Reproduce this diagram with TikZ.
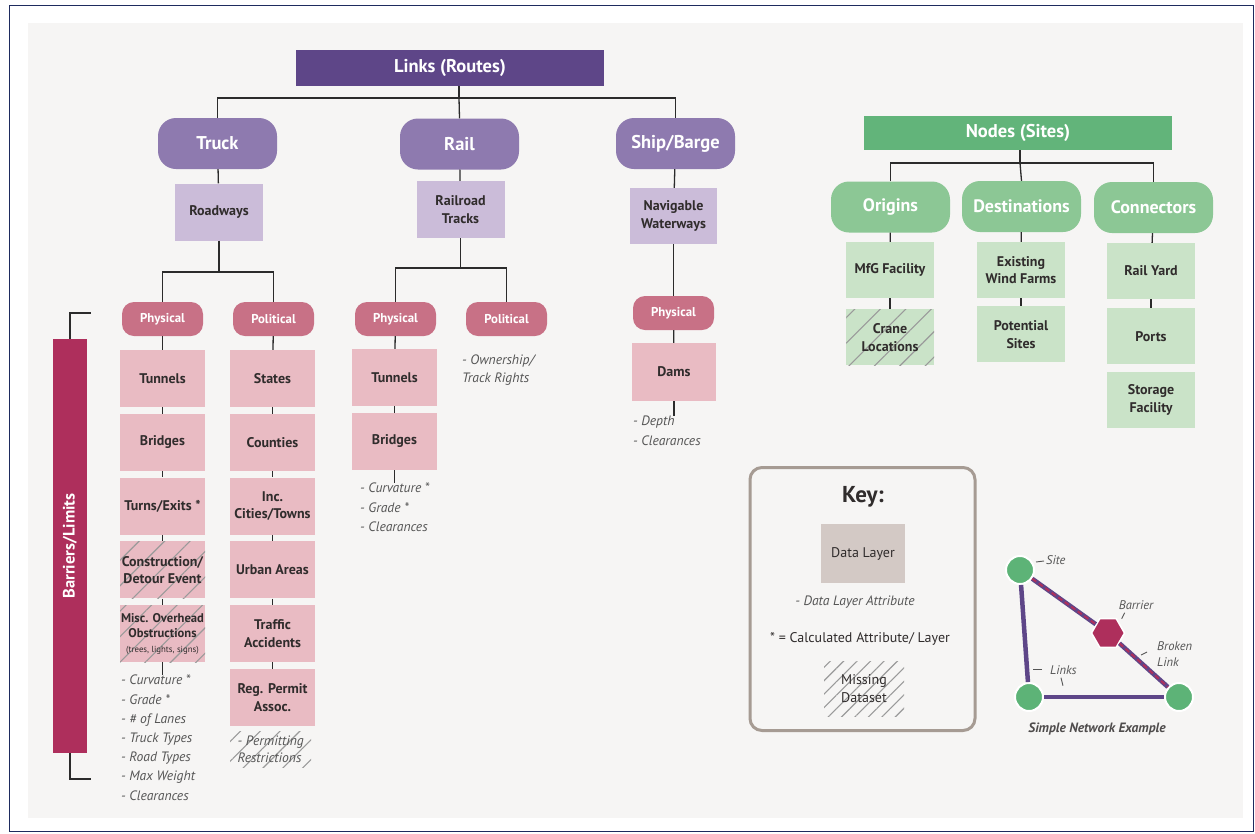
\documentclass[tikz,border=0pt]{standalone}
\usepackage{fontspec}
\setmainfont{PT Sans}
\usepackage{graphicx}
\usetikzlibrary{positioning,shapes.geometric,patterns.meta,calc}
\definecolor{framenavy}{HTML}{1E2B5E}
\definecolor{bggray}{HTML}{F6F5F4}
\definecolor{linkdark}{HTML}{5E4688}
\definecolor{linkpill}{HTML}{8E7AAF}
\definecolor{linkbox}{HTML}{CBBCD9}
\definecolor{barpill}{HTML}{C87186}
\definecolor{barbox}{HTML}{E9BBC3}
\definecolor{barcol}{HTML}{AE2F5C}
\definecolor{nodedark}{HTML}{62B47A}
\definecolor{nodepill}{HTML}{8CC795}
\definecolor{nodebox}{HTML}{CAE3C8}
\definecolor{keybox}{HTML}{D3C9C5}
\definecolor{keyframe}{HTML}{A69B93}
\definecolor{sitegreen}{HTML}{5DB377}
\definecolor{textdark}{HTML}{302C2C}
\definecolor{attrgray}{HTML}{555555}
\definecolor{hatchgray}{HTML}{9A9A9A}
\definecolor{linegray}{HTML}{2B2B2B}
\tikzset{
  tree/.style={draw=linegray, line width=1.3pt},
  head/.style={minimum width=308pt, minimum height=36pt, text=white, font=\fontsize{18.5}{21}\selectfont\bfseries},
  pill/.style={rounded corners=18pt, minimum width=119pt, minimum height=51pt, text=white, font=\fontsize{18.5}{21}\selectfont\bfseries},
  smallpill/.style={rounded corners=12pt, fill=barpill, minimum width=81pt, minimum height=34pt, text=white, font=\fontsize{12.8}{14}\selectfont\bfseries},
  layer/.style={minimum width=85pt, minimum height=57pt, inner sep=1pt, align=center, text=textdark, font=\fontsize{14}{17.5}\selectfont\bfseries},
  route/.style={layer, fill=linkbox, minimum width=88pt},
  barrierbox/.style={layer, fill=barbox},
  sitebox/.style={layer, fill=nodebox, minimum width=88pt, minimum height=56pt},
  missing/.style={postaction={pattern={Lines[angle=45, distance=#1, line width=1.1pt]}, pattern color=hatchgray}},
  missing/.default=18pt,
  attr/.style={anchor=north west, inner sep=0pt, align=left, text=attrgray, font=\fontsize{13.6}{19.2}\selectfont\itshape},
  site/.style={circle, fill=sitegreen, draw=white, line width=2pt, minimum size=28pt, inner sep=0pt},
  barrier/.style={regular polygon, regular polygon sides=6, fill=barcol, draw=white, line width=1.5pt, minimum size=33pt, inner sep=0pt},
  netlink/.style={draw=linkdark, line width=4.5pt},
  broken/.style={postaction={draw=barcol, line width=2pt, dash pattern=on 5pt off 3pt}},
  netlbl/.style={inner sep=0pt, text=attrgray, font=\fontsize{12.5}{16}\selectfont\itshape},
  tick/.style={draw=attrgray, line width=0.9pt},
}
\begin{document}
\begin{tikzpicture}[x=1pt, y=-1pt, node distance=6.4pt]
  \useasboundingbox (0,0) rectangle (1255,833);
  \draw[framenavy, line width=1pt] (9,5) rectangle (1253.5,831.5);
  \fill[bggray] (28,23) rectangle (1243,818);

  % links (routes)
  \node[head, fill=linkdark] (links) at (450,68) {Links (Routes)};
  \node[pill, fill=linkpill] (truck) at (217.5,143.5) {Truck};
  \node[pill, fill=linkpill] (rail) at (459.5,144) {Rail};
  \node[pill, fill=linkpill] (ship) at (675.5,143.5) {Ship/Barge};
  \node[route] (roadways) at (219,212) {Roadways};
  \node[route] (railroad) at (460.5,209.5) {Railroad\\Tracks};
  \node[route, minimum width=87pt, minimum height=56pt] (waterways) at (673.5,216) {Navigable\\Waterways};
  \coordinate (lbus) at (459,98);
  \draw[tree] (lbus |- links.south) -- (lbus);
  \draw[tree] (truck.north) |- (lbus) -| (ship.north);
  \draw[tree] (lbus) -- (rail.north);
  \draw[tree] (truck) -- (roadways);
  \draw[tree] (rail) -- (railroad);
  \draw[tree] (ship) -- (waterways);

  % truck barriers
  \node[smallpill] (tphys) at (162.5,319) {Physical};
  \node[smallpill] (tpol) at (273.5,319) {Political};
  \coordinate (tbus) at (219,272);
  \draw[tree] (roadways.south) -- (tbus);
  \draw[tree] (tphys.north) |- (tbus) -| (tpol.north);
  \node[barrierbox] (ttunnels) at (162.5,378.5) {Tunnels};
  \node[barrierbox, below=of ttunnels] (tbridges) {Bridges};
  \node[barrierbox, below=of tbridges] (tturns) {Turns/Exits *};
  \node[barrierbox, missing, below=of tturns] (tconstr) {Construction/\\Detour Event};
  \node[barrierbox, missing, below=of tconstr, font=\fontsize{12.6}{15}\selectfont\bfseries] (tmisc) {Misc. Overhead\\Obstructions\\{\fontsize{8.8}{10}\selectfont\mdseries (trees, lights, signs)}};
  \node[barrierbox] (tstates) at (272.5,378.5) {States};
  \node[barrierbox, below=of tstates] (tcounties) {Counties};
  \node[barrierbox, below=of tcounties] (tcities) {Inc.\\Cities/Towns};
  \node[barrierbox, below=of tcities] (turban) {Urban Areas};
  \node[barrierbox, below=of turban] (ttraffic) {Traffic\\Accidents};
  \node[barrierbox, below=of ttraffic] (tpermit) {Reg. Permit\\Assoc.};
  \foreach \a/\b in {tphys/ttunnels, ttunnels/tbridges, tbridges/tturns, tturns/tconstr, tconstr/tmisc,
    tpol/tstates, tstates/tcounties, tcounties/tcities, tcities/turban, turban/ttraffic, ttraffic/tpermit}
    \draw[tree] (\a) -- (\b);
  \node[attr] (tattr) at (121,675) {- Curvature *\\- Grade *\\- \# of Lanes\\- Truck Types\\- Road Types\\- Max Weight\\- Clearances};
  \draw[tree] (tmisc.south) -- (tmisc.south |- tattr.north);
  \node[attr, missing=14pt, minimum width=81pt, minimum height=36pt, inner xsep=1pt, font=\fontsize{13.6}{17}\selectfont\itshape] (tpermits) at (230,731) {- Permitting\\Restrictions};

  % rail barriers
  \node[smallpill] (rphys) at (395.5,319) {Physical};
  \node[smallpill] (rpol) at (506.5,319) {Political};
  \coordinate (rbus) at (460.5,268);
  \draw[tree] (railroad.south) -- (rbus);
  \draw[tree] (rphys.north) |- (rbus) -| (rpol.north);
  \node[barrierbox] (rtunnels) at (394.5,377.5) {Tunnels};
  \node[barrierbox, below=of rtunnels] (rbridges) {Bridges};
  \draw[tree] (rphys) -- (rtunnels);
  \draw[tree] (rtunnels) -- (rbridges);
  \node[attr] (rattr) at (360,483) {- Curvature *\\- Grade *\\- Clearances};
  \draw[tree] (rbridges.south) -- (rbridges.south |- rattr.north);
  \node[attr, font=\fontsize{13.6}{18}\selectfont\itshape] (rown) at (462,355) {- Ownership/\\Track Rights};

  % ship barriers
  \node[smallpill] (sphys) at (673.5,313) {Physical};
  \node[barrierbox, minimum width=84pt, minimum height=58pt] (sdams) at (674,372) {Dams};
  \draw[tree] (waterways) -- (sphys);
  \draw[tree] (sphys) -- (sdams);
  \node[attr] (sattr) at (633,416) {- Depth\\- Clearances};
  \draw[tree] (sdams.south) -- (sdams.south |- sattr.north);

  % barriers/limits bar
  \node[fill=barcol, minimum width=34pt, minimum height=414pt, inner sep=0pt, text=white, font=\fontsize{16.5}{18}\selectfont\bfseries] (barlim) at (70,546) {\rotatebox{90}{Barriers/Limits}};
  \coordinate (bartop) at (91,313);
  \coordinate (barbot) at (91,779);
  \draw[tree] (barlim.north) |- (bartop);
  \draw[tree] (barlim.south) |- (barbot);

  % nodes (sites)
  \node[head, fill=nodedark, minimum height=34pt] (sites) at (1018,133) {Nodes (Sites)};
  \node[pill, fill=nodepill, font=\fontsize{18}{21}\selectfont\bfseries] (origins) at (890.5,207) {Origins};
  \node[pill, fill=nodepill, font=\fontsize{18}{21}\selectfont\bfseries] (destinations) at (1021.5,206.5) {Destinations};
  \node[pill, fill=nodepill, font=\fontsize{18}{21}\selectfont\bfseries] (connectors) at (1153.5,207.5) {Connectors};
  \coordinate (nbus) at (1020,163);
  \draw[tree] (nbus |- sites.south) -- (nbus);
  \draw[tree] (origins.north) |- (nbus) -| (connectors.north);
  \draw[tree] (nbus) -- (destinations.north);
  \node[sitebox] (mfg) at (890,270) {MfG Facility};
  \node[sitebox, missing, below=11pt of mfg] (crane) {Crane\\Locations};
  \node[sitebox] (existing) at (1021,270) {Existing\\Wind Farms};
  \node[sitebox, below=8pt of existing] (potential) {Potential\\Sites};
  \node[sitebox] (railyard) at (1151,271) {Rail Yard};
  \node[sitebox, below=9pt of railyard] (ports) {Ports};
  \node[sitebox, below=7pt of ports] (storage) {Storage\\Facility};
  \foreach \a/\b in {origins/mfg, mfg/crane, destinations/existing, existing/potential,
    connectors/railyard, railyard/ports}
    \draw[tree] (\a) -- (\b);

  % key
  \node[draw=keyframe, fill=bggray, line width=3pt, rounded corners=12pt, minimum width=225pt, minimum height=263pt] (key) at (862.5,599) {};
  \node[text=textdark, font=\fontsize{23}{26}\selectfont\bfseries] (keytitle) at (863,497) {Key:};
  \node[layer, fill=keybox, minimum width=84pt, minimum height=59pt, font=\fontsize{14}{17}\selectfont] (keylayer) at (863,553.5) {Data Layer};
  \node[netlbl, font=\fontsize{13.6}{16}\selectfont\itshape] (keyattr) at (855,602) {- Data Layer Attribute};
  \node[text=textdark, inner sep=0pt, font=\fontsize{14}{16}\selectfont] (keycalc) at (860,639) {* = Calculated Attribute/ Layer};
  \node[layer, missing=9.5pt, minimum width=80pt, minimum height=55pt, font=\fontsize{14}{18}\selectfont] (keymissing) at (864,689) {Missing\\Dataset};

  % simple network example
  \node[site] (sitea) at (1020,570) {};
  \node[site] (siteb) at (1029,697) {};
  \node[site] (sitec) at (1179,697) {};
  \node[barrier] (barrier) at (1108,633) {};
  \draw[netlink] (sitea) -- (siteb);
  \draw[netlink] (siteb) -- (sitec);
  \draw[netlink, broken] (sitea) -- (barrier);
  \draw[netlink, broken] (barrier) -- (sitec);
  \node[netlbl, anchor=west] (sitelbl) at (1046,560) {Site};
  \draw[tick] ($(sitelbl.west)+(-2,1)$) -- ++(-8,1);
  \node[netlbl] (barlbl) at (1136,605) {Barrier};
  \draw[tick] ($(barlbl.south west)+(6,3)$) -- ++(-3,6);
  \node[netlbl, anchor=west, align=left] (brokenlbl) at (1157,654) {Broken\\Link};
  \draw[tick] ($(brokenlbl.west)+(-10,-2)$) -- ++(-6,3);
  \node[netlbl, anchor=west] (linkslbl) at (1050,670) {Links};
  \draw[tick] ($(linkslbl.west)+(-8,-1)$) -- ++(-9,0);
  \draw[tick] ($(linkslbl.south west)+(11,3)$) -- ++(2,8);
  \node[text=textdark!85, font=\fontsize{13.5}{16}\selectfont\bfseries\itshape] (netcaption) at (1097,729) {Simple Network Example};
\end{tikzpicture}
\end{document}
